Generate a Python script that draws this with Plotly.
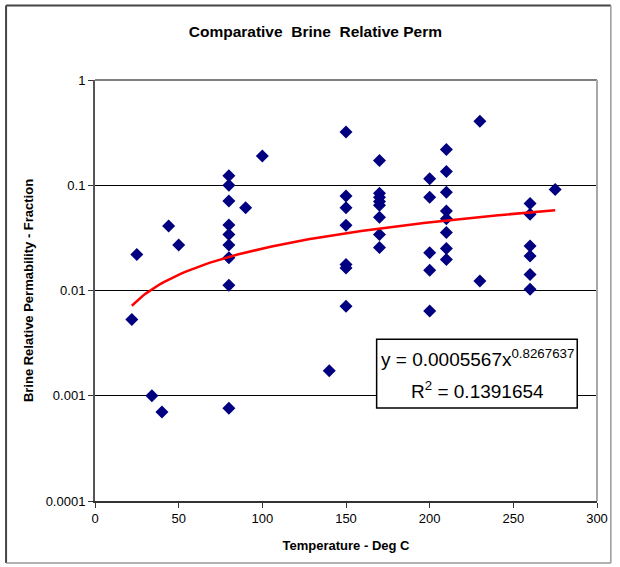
import numpy as np
import plotly.graph_objects as go

# ---- data ----
temp_c = [22, 25, 34, 40, 44, 50,
          80, 80, 80, 80, 80, 80, 80, 80, 80,
          90, 100, 140,
          150, 150, 150, 150, 150, 150, 150,
          170, 170, 170, 170, 170, 170, 170, 170,
          200, 200, 200, 200, 200,
          210, 210, 210, 210, 210, 210, 210, 210,
          230, 230,
          260, 260, 260, 260, 260, 260,
          275]
brine_kr = [0.0053, 0.022, 0.001, 0.0007, 0.041, 0.027,
            0.123, 0.1, 0.071, 0.042, 0.034, 0.027, 0.0205, 0.0112, 0.00076,
            0.061, 0.19, 0.00173,
            0.32, 0.079, 0.061, 0.0417, 0.0177, 0.0164, 0.0071,
            0.172, 0.084, 0.077, 0.070, 0.0645, 0.0496, 0.034, 0.0256,
            0.115, 0.077, 0.0229, 0.0156, 0.0064,
            0.219, 0.135, 0.086, 0.057, 0.048, 0.0355, 0.025, 0.0197,
            0.406, 0.0123,
            0.067, 0.053, 0.0265, 0.0213, 0.0142, 0.0103,
            0.091]

# power trendline as displayed on the chart
fit_coef = 0.0005567
fit_exp = 0.8267637
fit_r2 = 0.1391654
fit_x = np.linspace(22, 275, 120)
fit_y = fit_coef * fit_x ** fit_exp

x_ticks = [0, 50, 100, 150, 200, 250, 300]
y_tickvals = [0.0001, 0.001, 0.01, 0.1, 1]
y_ticktext = ["0.0001", "0.001", "0.01", "0.1", "1"]

FONT = "Arial, Liberation Sans, sans-serif"

W, H = 620, 567
L, R, T, B = 95, 603, 79.5, 501


def px(xp):
    return (xp - L) / (R - L)


def py(yp):
    return (B - yp) / (B - T)


fig = go.Figure()
fig.add_trace(go.Scatter(x=temp_c, y=brine_kr, mode="markers",
                         marker=dict(symbol="diamond", size=10, color="#000080",
                                     line=dict(width=0)),
                         showlegend=False, hoverinfo="x+y"))
fig.add_trace(go.Scatter(x=fit_x, y=fit_y, mode="lines",
                         line=dict(color="#ff0000", width=2.5),
                         showlegend=False, hoverinfo="skip"))

fig.update_layout(
    width=W, height=H,
    margin=dict(l=L, r=W - R, t=T, b=H - B, pad=0),
    paper_bgcolor="white", plot_bgcolor="white",
    font=dict(family=FONT, color="black", size=12),
    title=dict(text="<b>Comparative\u00a0 Brine\u00a0 Relative Perm</b>",
               x=px(318), xref="paper", xanchor="center",
               y=1 - 32 / H, yref="container", yanchor="middle",
               font=dict(size=15.5, family=FONT)),
    xaxis=dict(range=[0, 300], tickvals=x_ticks, ticks="outside", ticklen=5,
               tickcolor="#333", showline=True, linecolor="#333", linewidth=1.5,
               showgrid=False, zeroline=False,
               tickfont=dict(size=13, family=FONT),
               title=dict(text="<b>Temperature - Deg C</b>", standoff=16,
                          font=dict(size=13, family=FONT))),
    yaxis=dict(type="log", range=[-4, 0], tickvals=y_tickvals, ticktext=y_ticktext,
               ticks="outside", ticklen=5, tickcolor="#333",
               showline=True, linecolor="#555", linewidth=2,
               showgrid=True, gridcolor="black", gridwidth=1,
               zeroline=False, tickfont=dict(size=13, family=FONT),
               title=dict(text="<b>Brine Relative Permability - Fraction</b>",
                          standoff=9, font=dict(size=13, family=FONT))),
    shapes=[
        # plot area top & right borders
        dict(type="line", xref="paper", yref="paper", x0=0, x1=1, y0=1, y1=1,
             line=dict(color="#808080", width=2), layer="above"),
        dict(type="line", xref="paper", yref="paper", x0=1, x1=1, y0=0, y1=1,
             line=dict(color="#a8a8a8", width=2), layer="above"),
        # chart area frame
        dict(type="line", xref="paper", yref="paper", x0=px(5), x1=px(5),
             y0=py(5), y1=py(563), line=dict(color="#444", width=2), layer="above"),
        dict(type="line", xref="paper", yref="paper", x0=px(5), x1=px(617),
             y0=py(5), y1=py(5), line=dict(color="#444", width=2), layer="above"),
        dict(type="line", xref="paper", yref="paper", x0=px(617), x1=px(617),
             y0=py(5), y1=py(563), line=dict(color="#999", width=1.5), layer="above"),
        dict(type="line", xref="paper", yref="paper", x0=px(5), x1=px(617),
             y0=py(563), y1=py(563), line=dict(color="#999", width=1.5), layer="above"),
        # equation box
        dict(type="rect", xref="paper", yref="paper", x0=px(380), x1=px(583),
             y0=py(408), y1=py(339), fillcolor="white",
             line=dict(color="black", width=1.5), layer="above"),
    ],
    annotations=[
        dict(xref="paper", yref="paper", x=px(482), y=py(358),
             xanchor="center", yanchor="middle", showarrow=False,
             text=f"y = {fit_coef:.7f}x<sup>{fit_exp}</sup>",
             font=dict(size=19, family=FONT, color="black")),
        dict(xref="paper", yref="paper", x=px(482), y=py(390),
             xanchor="center", yanchor="middle", showarrow=False,
             text=f"R<sup>2</sup> = {fit_r2}",
             font=dict(size=19, family=FONT, color="black")),
    ],
)

fig.write_html("out.html")
